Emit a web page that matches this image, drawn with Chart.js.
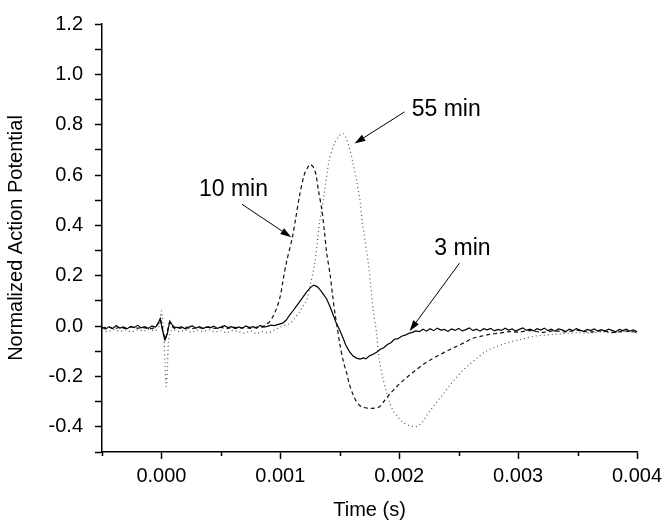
<!DOCTYPE html>
<html>
<head>
<meta charset="utf-8">
<script src="https://cdn.jsdelivr.net/npm/chart.js@4.4.0/dist/chart.umd.min.js"></script>
<style>
  body { margin: 0; background: #fff; }
  #wrap { width: 668px; height: 529px; }
</style>
</head>
<body>
<div id="wrap"><canvas id="apChart" width="668" height="529"></canvas></div>
<script>
// 3 min (solid)
const time3 = [-0.0005, -0.00047, -0.00044, -0.00041, -0.00038, -0.00035, -0.00032, -0.00029, -0.00026, -0.00023, -0.0002, -0.00017, -0.00014, -0.00011, -0.00008, -0.00005, -0.00003,
  -0.00001, 0.00001, 0.00003, 0.00005, 0.00007, 0.00009, 0.00011,
  0.00014, 0.00017, 0.0002, 0.00023, 0.00026, 0.00029, 0.00032, 0.00035, 0.00038, 0.00041, 0.00044, 0.00047, 0.0005, 0.00053, 0.00056, 0.00059, 0.00062, 0.00065, 0.00068, 0.00071, 0.00074, 0.00077, 0.0008, 0.00083, 0.00086, 0.00089, 0.00092,
  0.00095, 0.00099, 0.00102, 0.00105, 0.00108, 0.00111, 0.00114, 0.00116, 0.00119, 0.00122, 0.00125, 0.00128, 0.00131, 0.00133, 0.00136, 0.00139, 0.00142, 0.00144, 0.00147, 0.0015, 0.00153, 0.00155, 0.00158, 0.00161, 0.00164, 0.00167, 0.0017, 0.00172, 0.00175, 0.00178, 0.00181, 0.00184, 0.00187, 0.0019, 0.00193, 0.00196, 0.00199, 0.00202, 0.00205, 0.00208, 0.00211, 0.00214, 0.00217,
  0.0022, 0.00223, 0.00226, 0.00229, 0.00232, 0.00235, 0.00238, 0.00241, 0.00244, 0.00247, 0.0025, 0.00253, 0.00256, 0.00259, 0.00262, 0.00265, 0.00268, 0.00271, 0.00274, 0.00277, 0.0028, 0.00283, 0.00286, 0.00289, 0.00292, 0.00295, 0.00298, 0.00301, 0.00304, 0.00307, 0.0031, 0.00313, 0.00316, 0.00319, 0.00322, 0.00325, 0.00328, 0.00331, 0.00334, 0.00337, 0.0034, 0.00343, 0.00346, 0.00349, 0.00352, 0.00355, 0.00358, 0.00361, 0.00364, 0.00367, 0.0037, 0.00373, 0.00376, 0.00379, 0.00382, 0.00385, 0.00388, 0.00391, 0.00394, 0.00397, 0.004];
const pot3 = [-0.004, -0.012, -0.002, -0.010, 0.002, -0.008, -0.003, -0.011, -0.001, -0.006, 0.003, -0.007, -0.002, -0.009, 0.001, -0.004, 0.008,
  0.03, -0.02, -0.055, -0.03, 0.02, 0.005, -0.004,
  -0.006, -0.003, -0.011, -0.004, 0.001, -0.008, -0.002, -0.010, -0.003, -0.007, 0.000, -0.009, -0.004, 0.002, -0.006, -0.002, -0.010, -0.003, -0.008, 0.001, -0.006, -0.002, -0.009, 0.003, -0.004, -0.001, 0.004,
  0.002, 0.008, 0.012, 0.024, 0.045, 0.063, 0.082, 0.095, 0.115, 0.135, 0.152, 0.163, 0.157, 0.147, 0.128, 0.108, 0.075, 0.050, 0.012, -0.016, -0.050, -0.075, -0.100, -0.118, -0.127, -0.131, -0.126, -0.130, -0.118, -0.112, -0.104, -0.092, -0.086, -0.073, -0.066, -0.052, -0.050, -0.040, -0.036, -0.029, -0.025, -0.019, -0.022,
  -0.012, -0.020, -0.010, -0.018, -0.008, -0.016, -0.013, -0.021, -0.011, -0.017, -0.009, -0.019, -0.014, -0.007, -0.018, -0.012, -0.020, -0.010, -0.015, -0.009, -0.019, -0.013, -0.017, -0.008, -0.016, -0.011, -0.020, -0.013, -0.007, -0.017, -0.012, -0.019, -0.010, -0.016, -0.008, -0.018, -0.012, -0.020, -0.011, -0.015, -0.022, -0.012, -0.018, -0.010, -0.016, -0.021, -0.013, -0.018, -0.011, -0.019, -0.014, -0.020, -0.012, -0.017, -0.023, -0.013, -0.018, -0.012, -0.020, -0.015, -0.022];

// 10 min (dashed)
const time10 = [-0.0005, -0.00045, -0.0004, -0.00035, -0.0003, -0.00025, -0.0002, -0.00015, -0.0001, -0.00005, -0.00001, 0.00001, 0.00003, 0.00005, 0.00007, 0.0001, 0.00015, 0.0002, 0.00025, 0.0003, 0.00035, 0.0004, 0.00045, 0.0005, 0.00055, 0.0006, 0.00065, 0.0007, 0.00075, 0.0008, 0.00083, 0.00086, 0.00089, 0.00091, 0.00094, 0.00097, 0.001, 0.00102, 0.00105, 0.0011, 0.00113, 0.00116, 0.0012, 0.00123, 0.00125, 0.00128, 0.0013, 0.00132, 0.00135, 0.00137, 0.00139, 0.00142, 0.00144, 0.00146, 0.00148, 0.0015, 0.00153, 0.00156, 0.00158, 0.00161, 0.00164, 0.00167, 0.0017, 0.00173, 0.00176, 0.00179, 0.00182, 0.00184, 0.00187, 0.0019, 0.00192, 0.00196, 0.002, 0.00206, 0.00213, 0.0022, 0.00227, 0.00234, 0.00241, 0.00248, 0.00255, 0.00262, 0.00269, 0.00276, 0.00284, 0.00293, 0.003, 0.0031, 0.0032, 0.0033, 0.0034, 0.0035, 0.0036, 0.0037, 0.0038, 0.0039, 0.004];
const pot10 = [-0.008, -0.004, -0.010, -0.005, -0.009, -0.003, -0.008, -0.006, -0.010, -0.004, 0.025, -0.01, -0.05, -0.02, 0.015, -0.006, -0.009, -0.004, -0.010, -0.006, -0.008, -0.003, -0.009, -0.005, -0.010, -0.004, -0.008, -0.006, -0.009, -0.004, -0.005, 0.000, 0.010, 0.017, 0.040, 0.072, 0.120, 0.174, 0.250, 0.350, 0.430, 0.514, 0.600, 0.630, 0.642, 0.630, 0.600, 0.540, 0.460, 0.380, 0.290, 0.200, 0.120, 0.050, -0.010, -0.070, -0.140, -0.190, -0.230, -0.270, -0.300, -0.316, -0.323, -0.326, -0.327, -0.326, -0.324, -0.318, -0.300, -0.282, -0.270, -0.250, -0.230, -0.205, -0.178, -0.153, -0.132, -0.114, -0.097, -0.081, -0.065, -0.048, -0.040, -0.033, -0.028, -0.022, -0.024, -0.018, -0.025, -0.019, -0.023, -0.017, -0.024, -0.019, -0.025, -0.020, -0.024];

// 55 min (dotted)
const time55 = [-0.0005, -0.00045, -0.0004, -0.00035, -0.0003, -0.00025, -0.0002, -0.00015, -0.0001, -0.00005, -0.00002, 0.0, 0.00002, 0.00003, 0.00004, 0.00005, 0.00006, 0.00008, 0.0001, 0.00015, 0.0002, 0.00025, 0.0003, 0.00035, 0.0004, 0.00045, 0.0005, 0.00055, 0.0006, 0.00065, 0.0007, 0.00075, 0.0008, 0.00085, 0.0009, 0.00094, 0.00097, 0.001, 0.00104, 0.00108, 0.00112, 0.00116, 0.00119, 0.00122, 0.00125, 0.00129, 0.00133, 0.00137, 0.00141, 0.00146, 0.0015, 0.00153, 0.00155, 0.00158, 0.00161, 0.00164, 0.00167, 0.00169, 0.00174, 0.00178, 0.00181, 0.00183, 0.00186, 0.00189, 0.00192, 0.00195, 0.00199, 0.00203, 0.00208, 0.00214, 0.00219, 0.00224, 0.0023, 0.00237, 0.00242, 0.00248, 0.00253, 0.00259, 0.00266, 0.00273, 0.0028, 0.00287, 0.00294, 0.00301, 0.00308, 0.00315, 0.00322, 0.00329, 0.00336, 0.00343, 0.0035, 0.0036, 0.0037, 0.0038, 0.0039, 0.004];
const pot55 = [-0.015, -0.022, -0.014, -0.020, -0.016, -0.023, -0.015, -0.019, -0.013, -0.018, 0.000, 0.060, -0.040, -0.150, -0.240, -0.170, -0.060, -0.020, -0.014, -0.022, -0.016, -0.024, -0.017, -0.021, -0.015, -0.023, -0.018, -0.026, -0.017, -0.022, -0.028, -0.019, -0.030, -0.022, -0.026, -0.018, -0.010, -0.004, 0.004, 0.010, 0.030, 0.055, 0.080, 0.100, 0.160, 0.250, 0.410, 0.527, 0.657, 0.730, 0.758, 0.765, 0.750, 0.710, 0.650, 0.580, 0.500, 0.410, 0.250, 0.070, -0.030, -0.127, -0.200, -0.258, -0.305, -0.336, -0.362, -0.382, -0.394, -0.399, -0.384, -0.349, -0.310, -0.270, -0.238, -0.205, -0.178, -0.153, -0.125, -0.100, -0.085, -0.072, -0.062, -0.055, -0.046, -0.039, -0.036, -0.033, -0.031, -0.029, -0.026, -0.028, -0.023, -0.027, -0.022, -0.026];

// annotation labels (data coordinates)
const notes = [
  { text: '10 min', tx: 0.000606, ty: 0.542, fromX: 0.000677, fromY: 0.484, toX: 0.001092, toY: 0.353 },
  { text: '55 min', tx: 0.002395, ty: 0.86, fromX: 0.002045, fromY: 0.851, toX: 0.001624, toY: 0.725 },
  { text: '3 min', tx: 0.002532, ty: 0.307, fromX: 0.002507, fromY: 0.25, toX: 0.002087, toY: -0.02 }
];

const toPoints = (ts, vs) => ts.map((t, i) => ({ x: t, y: vs[i] }));
const isMajorX = v => Math.round(v * 2000) % 2 === 0;

const FONT = 'Liberation Sans, Arial, sans-serif';

const notePlugin = {
  id: 'notes',
  afterDatasetsDraw(chart) {
    const { ctx, scales: { x, y } } = chart;
    ctx.save();
    ctx.fillStyle = '#000';
    ctx.strokeStyle = '#000';
    // short minor ticks on the time axis
    ctx.lineWidth = 1.5;
    x.ticks.forEach(t => {
      if (isMajorX(t.value)) return;
      const px = Math.round(x.getPixelForValue(t.value)) + 0.5;
      ctx.beginPath();
      ctx.moveTo(px, x.top);
      ctx.lineTo(px, x.top + 4);
      ctx.stroke();
    });
    ctx.font = '23px ' + FONT;
    ctx.textAlign = 'center';
    ctx.textBaseline = 'middle';
    notes.forEach(n => {
      ctx.fillText(n.text, x.getPixelForValue(n.tx), y.getPixelForValue(n.ty));
      const x0 = x.getPixelForValue(n.fromX), y0 = y.getPixelForValue(n.fromY);
      const x1 = x.getPixelForValue(n.toX), y1 = y.getPixelForValue(n.toY);
      const ang = Math.atan2(y1 - y0, x1 - x0);
      const head = 11, half = 3.5;
      ctx.lineWidth = 1;
      ctx.beginPath();
      ctx.moveTo(x0, y0);
      ctx.lineTo(x1 - head * Math.cos(ang), y1 - head * Math.sin(ang));
      ctx.stroke();
      ctx.beginPath();
      ctx.moveTo(x1, y1);
      ctx.lineTo(x1 - head * Math.cos(ang) + half * Math.sin(ang), y1 - head * Math.sin(ang) - half * Math.cos(ang));
      ctx.lineTo(x1 - head * Math.cos(ang) - half * Math.sin(ang), y1 - head * Math.sin(ang) + half * Math.cos(ang));
      ctx.closePath();
      ctx.fill();
    });
    ctx.restore();
  }
};

const ctx = document.getElementById('apChart').getContext('2d');

new Chart(ctx, {
  type: 'line',
  data: {
    datasets: [
      { label: '3 min', data: toPoints(time3, pot3), borderColor: '#000', borderWidth: 1.2, pointRadius: 0, tension: 0 },
      { label: '10 min', data: toPoints(time10, pot10), borderColor: '#111', borderWidth: 1.2, borderDash: [4, 3], pointRadius: 0, tension: 0.3 },
      { label: '55 min', data: toPoints(time55, pot55), borderColor: '#555', borderWidth: 1.2, borderDash: [1, 3], pointRadius: 0, tension: 0.3 }
    ]
  },
  options: {
    responsive: false,
    animation: false,
    layout: { padding: { top: 18, right: 31, left: 0, bottom: 0 } },
    plugins: { legend: { display: false }, tooltip: { enabled: false } },
    scales: {
      x: {
        type: 'linear',
        min: -0.0005,
        max: 0.004,
        afterFit: s => { s.height = 77; },
        border: { color: '#000', width: 1.5 },
        grid: {
          drawOnChartArea: false,
          tickLength: 7,
          tickWidth: 1.5,
          tickColor: c => (c.tick && isMajorX(c.tick.value) ? '#000' : 'rgba(0,0,0,0)')
        },
        ticks: {
          stepSize: 0.0005,
          autoSkip: false,
          maxRotation: 0,
          padding: 5,
          color: '#000',
          font: { family: FONT, size: 20 },
          callback: v => (isMajorX(v) ? Math.abs(v).toFixed(3) : '')
        },
        title: { display: true, text: 'Time (s)', color: '#000', font: { family: FONT, size: 20 }, padding: { top: 0, bottom: 7 } }
      },
      y: {
        min: -0.5,
        max: 1.2,
        afterFit: s => { s.width = 102; },
        border: { color: '#000', width: 1.5 },
        grid: { drawOnChartArea: false, color: '#000', tickLength: 7, tickWidth: 1.5 },
        ticks: {
          stepSize: 0.1,
          autoSkip: false,
          padding: 12,
          color: '#000',
          font: { family: FONT, size: 20 },
          callback: v => {
            const r = Math.round(v * 10);
            if (r % 2 !== 0) return '';
            return r === 0 ? '0.0' : (r / 10).toFixed(1);
          }
        },
        title: { display: true, text: 'Normalized Action Potential', color: '#000', font: { family: FONT, size: 20 }, padding: { top: 4, bottom: 0 } }
      }
    }
  },
  plugins: [notePlugin]
});
</script>
</body>
</html>
